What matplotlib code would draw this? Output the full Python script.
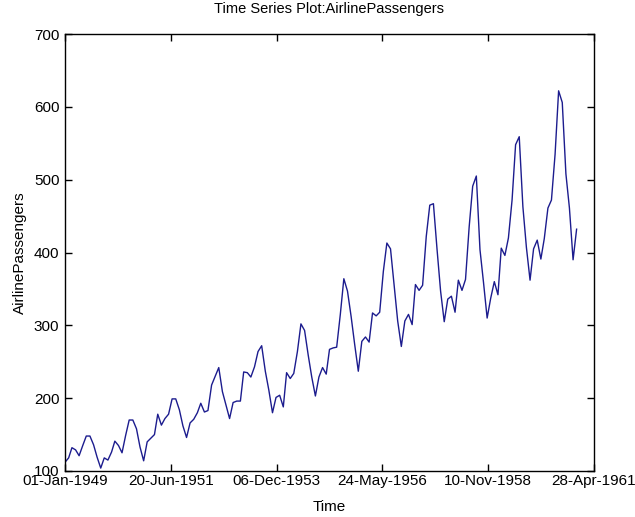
import matplotlib
matplotlib.use('Agg')
import matplotlib.pyplot as plt
import matplotlib.dates as mdates
import numpy as np
import pandas as pd

# Monthly airline passengers (thousands), Jan 1949 - Dec 1960
passengers = [
    112, 118, 132, 129, 121, 135, 148, 148, 136, 119, 104, 118,
    115, 126, 141, 135, 125, 149, 170, 170, 158, 133, 114, 140,
    145, 150, 178, 163, 172, 178, 199, 199, 184, 162, 146, 166,
    171, 180, 193, 181, 183, 218, 230, 242, 209, 191, 172, 194,
    196, 196, 236, 235, 229, 243, 264, 272, 237, 211, 180, 201,
    204, 188, 235, 227, 234, 264, 302, 293, 259, 229, 203, 229,
    242, 233, 267, 269, 270, 315, 364, 347, 312, 274, 237, 278,
    284, 277, 317, 313, 318, 374, 413, 405, 355, 306, 271, 306,
    315, 301, 356, 348, 355, 422, 465, 467, 404, 347, 305, 336,
    340, 318, 362, 348, 363, 435, 491, 505, 404, 359, 310, 337,
    360, 342, 406, 396, 420, 472, 548, 559, 463, 407, 362, 405,
    417, 391, 419, 461, 472, 535, 622, 606, 508, 461, 390, 432,
]
dates = pd.date_range('1949-01-01', periods=len(passengers), freq='MS')

tick_dates = pd.date_range('1949-01-01', periods=6, freq='900D')
y_ticks = [100, 200, 300, 400, 500, 600, 700]

plt.rcParams['font.family'] = ['Liberation Sans', 'DejaVu Sans']

fig = plt.figure(figsize=(6.35, 5.17), dpi=100)
ax = fig.add_axes([65 / 635, 1 - 471 / 517, 529 / 635, 437 / 517])

ax.plot(dates, passengers, color='#1c1c8e', linewidth=1.0)

ax.set_xlim(tick_dates[0], tick_dates[-1])
ax.set_ylim(100, 700)
ax.set_xticks(tick_dates)
ax.xaxis.set_major_formatter(mdates.DateFormatter('%d-%b-%Y'))
ax.set_yticks(y_ticks)

ax.tick_params(direction='in', top=True, right=True, length=5, width=1,
               labelsize=11)
ax.tick_params(axis='x', pad=2)
ax.tick_params(axis='y', pad=4)
for s in ax.spines.values():
    s.set_linewidth(1)

ax.set_title('Time Series Plot:AirlinePassengers', fontsize=10.5, pad=15)
ax.set_xlabel('Time', fontsize=11, labelpad=9)
ax.set_ylabel('AirlinePassengers', fontsize=11, labelpad=5)

fig.savefig('out.png', dpi=100)
